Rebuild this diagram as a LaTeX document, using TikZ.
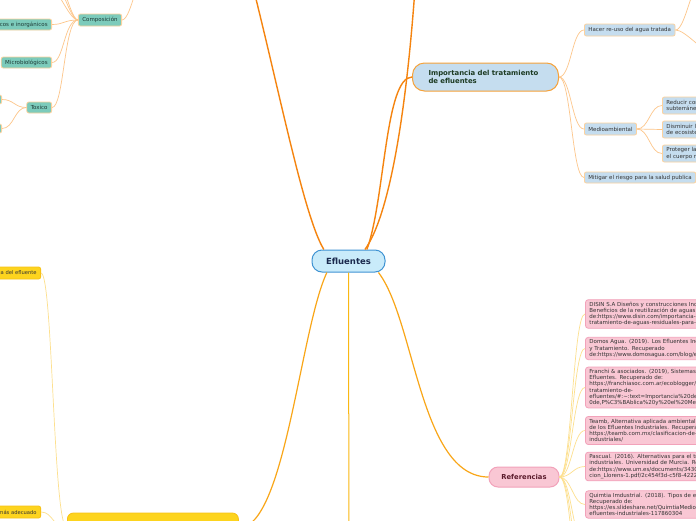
\documentclass[tikz,border=0pt]{standalone}
\usepackage{fontspec}
\setmainfont{DejaVu Sans}
\usepackage{xcolor}
\definecolor{hubfill}{HTML}{C9EBFA}
\definecolor{hubline}{HTML}{3F93D3}
\definecolor{hubtext}{HTML}{1B2A4E}
\definecolor{bluefill}{HTML}{C5DDEF}
\definecolor{impline}{HTML}{F6A23A}
\definecolor{imptext}{HTML}{1C3A22}
\definecolor{peach}{HTML}{FCD29E}
\definecolor{mintfill}{HTML}{7CCBBB}
\definecolor{minttext}{HTML}{1E3A36}
\definecolor{pinkfill}{HTML}{F9C7D4}
\definecolor{pinkline}{HTML}{F2A2BA}
\definecolor{reftext}{HTML}{5B1B2C}
\definecolor{yellowfill}{HTML}{FDD41E}
\definecolor{yellowline}{HTML}{F7C116}
\definecolor{darkorange}{HTML}{F5840F}
\definecolor{midorange}{HTML}{F9A618}
\definecolor{lightorange}{HTML}{FDC68A}
\definecolor{paleyellow}{HTML}{FDE08E}
\definecolor{txtgray}{HTML}{333333}

\begin{document}
\begin{tikzpicture}[x=1pt, y=-1pt,
    hubnode/.style={draw=hubline, fill=hubfill, line width=1pt, rounded corners=10pt,
      minimum width=73pt, minimum height=22pt, text=hubtext,
      font=\fontsize{8.5}{10}\selectfont\bfseries},
    mainbranch/.style={draw=impline, fill=bluefill, line width=1pt, rounded corners=12pt,
      anchor=west, minimum height=28pt, text width=114pt, inner xsep=16pt, align=left,
      text=imptext, font=\fontsize{6.9}{8}\selectfont\bfseries},
    refhub/.style={draw=pinkline, fill=pinkfill, line width=1pt, rounded corners=9pt,
      minimum width=70pt, minimum height=20pt, text=reftext,
      font=\fontsize{6.8}{8}\selectfont\bfseries},
    bluebox/.style={draw=peach, fill=bluefill, line width=0.8pt, rounded corners=2pt,
      anchor=west, minimum height=12pt, inner xsep=4pt, inner ysep=1pt, text=txtgray,
      font=\fontsize{5.5}{6.6}\selectfont},
    mintbox/.style={draw=peach, fill=mintfill, line width=0.8pt, rounded corners=2pt,
      minimum height=12pt, inner xsep=4pt, inner ysep=1pt, text=minttext,
      font=\fontsize{5.5}{6.6}\selectfont},
    pinkbox/.style={draw=pinkline, fill=pinkfill, line width=0.8pt, rounded corners=3pt,
      anchor=west, text width=300pt, align=left, inner xsep=4pt, inner ysep=2.3pt,
      text=txtgray, font=\fontsize{5.5}{6.2}\selectfont},
    yellowbox/.style={draw=yellowline, fill=yellowfill, line width=0.8pt, rounded corners=2pt,
      minimum height=12pt, inner xsep=4pt, inner ysep=1pt, text=black!80,
      font=\fontsize{5.2}{6.4}\selectfont},
    trunk/.style={darkorange, line width=1.4pt},
    trunkb/.style={midorange, line width=1.2pt},
    twig/.style={lightorange, line width=0.7pt},
    twigy/.style={paleyellow, line width=0.7pt}
  ]
  \useasboundingbox (0,0) rectangle (696,520);
  \clip (0,0) rectangle (696,520);
  \fill[white] (0,0) rectangle (696,520);

  \node[hubnode] (efluentes) at (348.5,261) {Efluentes};
  \node[mainbranch] (importancia) at (412,77) {Importancia del tratamiento\\de efluentes};
  \node[refhub] (referencias) at (524,477) {Referencias};
  \node[yellowbox, anchor=west, minimum width=171pt, minimum height=30pt, rounded corners=6pt]
    (amarillo) at (67,528) {};

  \node[bluebox] (hacer) at (584,30) {Hacer re-uso del agua tratada};
  \node[bluebox] (medio) at (584,129) {Medioambiental};
  \node[bluebox, minimum height=11pt] (mitigar) at (584,177.5) {Mitigar el riesgo para la salud publica};
  \foreach \n/\y/\txt in {
      reducir/105.5/{Reducir contaminación de aguas\\subterráneas},
      disminuir/129.5/{Disminuir la alteración\\de ecosistemas},
      proteger/153.5/{Proteger la calidad de\\el cuerpo receptor}%
    }{
      \node[bluebox, text width=100pt, align=left, minimum height=17pt] (\n) at (662,\y) {\txt};
    }

  \node[mintbox] (composicion) at (100,20) {Composición};
  \node[mintbox, anchor=east, minimum height=11pt] (organicos) at (52,24.5) {Orgánicos e inorgánicos};
  \node[mintbox, anchor=east, minimum height=11pt] (microbio) at (52,62.5) {Microbiológicos};
  \node[mintbox, anchor=east, minimum height=11pt] (toxico) at (52,107.5) {Toxico};
  \node[mintbox, anchor=east, minimum width=30pt, minimum height=9pt] (toxA) at (2,99.5) {};
  \node[mintbox, anchor=east, minimum width=30pt, minimum height=9pt] (toxB) at (2,128.5) {};

  \node[yellowbox, anchor=east] (carga) at (41,273) {Conocer la carga del efluente};
  \node[yellowbox, anchor=east] (adecuado) at (41,512) {Seleccionar el tratamiento más adecuado};

  \foreach \n/\y/\txt in {
      ref1/314/{DISIN S.A Diseños y construcciones Industriales. (2020).\\Beneficios de la reutilización de aguas residuales. Recuperado\\de:https://www.disin.com/importancia-del-\\tratamiento-de-aguas-residuales-para-su-reutilizacion/},
      ref2/348.5/{Domos Agua. (2019). Los Efluentes Industriales: Tipos\\y Tratamiento. Recuperado\\de:https://www.domosagua.com/blog/efluentes-industriales},
      ref3/387.5/{Franchi \& asociados. (2019), Sistemas de Tratamiento de\\Efluentes. Recuperado de:\\https://franchiasoc.com.ar/ecoblogger/importancia-del-\\tratamiento-de-\\efluentes/\#:\textasciitilde:text=Importancia\%20del\%20tratamiento\%2\\0de,P\%C3\%BAblica\%20y\%20el\%20Medio\%20Ambiente},
      ref4/430.5/{Teamb, Alternativa aplicada ambiental. Clasificación\\de los Efluentes Industriales. Recuperado de:\\https://teamb.com.mx/clasificacion-de-los-efluentes-\\industriales/},
      ref5/466.5/{Pascual. (2016). Alternativas para el tratamiento de efluentes\\industriales. Universidad de Murcia. Recuperado\\de:https://www.um.es/documents/3430/tesis-\\cion\_Llorens-1.pdf/2c454f3d-c5f8-4222},
      ref6/504.5/{Quimtia Imdustrial. (2018). Tipos de efluentes industriales.\\Recuperado de:\\https://es.slideshare.net/QuimtiaMedioAmbiente/tipos-de-\\efluentes-industriales-117860304}%
    }{
      \node[pinkbox] (\n) at (585,\y) {\txt};
    }

  \coordinate (upleft) at (235,-80);
  \coordinate (upright) at (418,-60);
  \coordinate (down) at (349,560);
  \coordinate (compUp) at (150,-40);
  \coordinate (compA) at (42,-20);
  \coordinate (compB) at (40,-45);
  \coordinate (compC) at (38,-70);
  \coordinate (reuseA) at (702,-20);
  \coordinate (reuseB) at (712,52);

  \draw[trunk] (efluentes.155) .. controls (300,210) and (270,40) .. (upleft);
  \draw[trunk] (efluentes.35) .. controls (392,212) and (410,90) .. (upright);
  \draw[trunk] (efluentes.32) .. controls (385,200) and (385,77) .. (importancia.west);
  \draw[trunkb] (efluentes.208) .. controls (300,330) and (285,528) .. (amarillo.east);
  \draw[trunkb] (efluentes.339) .. controls (415,320) and (420,477) .. (referencias.west);
  \draw[midorange!80!yellow, line width=1pt] (efluentes.south) -- (down);

  \foreach \n in {hacer,medio,mitigar}
    \draw[twig] (importancia.east) .. controls +(12,0) and +(-12,0) .. (\n.west);
  \foreach \n in {reducir,disminuir,proteger}
    \draw[twig] (medio.east) .. controls +(12,0) and +(-12,0) .. (\n.west);
  \foreach \n in {reuseA,reuseB}
    \draw[twig] (hacer.east) .. controls +(10,0) and +(-10,0) .. (\n);

  \draw[twig] (composicion.east) .. controls +(10,0) and +(-10,0) .. (compUp);
  \foreach \n in {compA,compB,compC}
    \draw[twig] (composicion.west) .. controls +(-10,0) and +(14,0) .. (\n);
  \foreach \n in {organicos,microbio,toxico}
    \draw[twig] (composicion.west) .. controls +(-14,0) and +(12,0) .. (\n.east);
  \foreach \n in {toxA,toxB}
    \draw[twig] (toxico.west) .. controls +(-12,0) and +(12,0) .. (\n.east);

  \foreach \n in {ref1,ref2,ref3,ref4,ref5,ref6}
    \draw[twigy] (referencias.east) .. controls +(12,0) and +(-12,0) .. (\n.west);
  \foreach \y in {545,575,610}
    \draw[twigy] (referencias.east) .. controls +(12,0) and +(-12,0) .. (585,\y);

  \draw[twigy] (amarillo.west) .. controls +(-14,0) and +(12,0) .. (carga.east);
  \draw[twigy] (amarillo.west) .. controls +(-14,0) and +(12,0) .. (adecuado.east);
\end{tikzpicture}
\end{document}
